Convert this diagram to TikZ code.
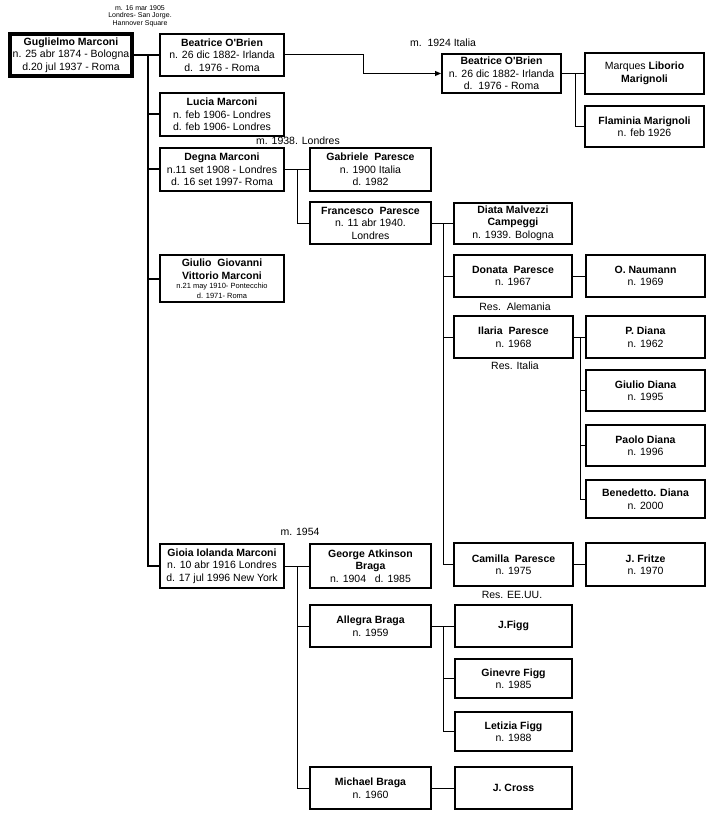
\documentclass[tikz,border=0pt]{standalone}
\usepackage{fontspec}
\setmainfont{Liberation Sans}
\usetikzlibrary{arrows.meta}
\begin{document}
\begin{tikzpicture}[x=1pt,y=-1pt,
  pbox/.style={draw, fill=white, line width=2pt, inner sep=0pt, align=center, font=\fontsize{10.5}{12.5}\selectfont},
  wh/.style 2 args={minimum width=#1pt, minimum height=#2pt},
  lbl/.style={inner sep=0pt, align=center, font=\fontsize{10.5}{12.5}\selectfont},
  tiny/.style={inner sep=0pt, align=center, font=\fontsize{7}{7.5}\selectfont},
  link/.style={line width=1pt},
  trunk/.style={line width=2pt},
]
\fill[white] (0,0) rectangle (710,813);
\useasboundingbox (0,0) rectangle (710,813);

% column guide coordinates
\coordinate (tk) at (148,55);
\coordinate (c297) at (297,0);
\coordinate (c363) at (363,0);
\coordinate (c443) at (443,0);
\coordinate (c575) at (575,0);
\coordinate (c580) at (580,0);

% generation 1
\node[pbox, line width=4pt, wh={122}{42}] (gm) at (71,55) {\textbf{Guglielmo Marconi}\\n. 25 abr 1874 - Bologna\\d.20 jul 1937 - Roma};

% generation 2
\node[pbox, wh={124}{42}] (bo1) at (222,55) {\textbf{Beatrice O\textquotesingle Brien}\\n. 26 dic 1882- Irlanda\\d.~~1976 - Roma};
\node[pbox, wh={124}{43}] (lm) at (222,114.5) {\textbf{Lucia Marconi}\\n. feb 1906- Londres\\d. feb 1906- Londres};
\node[pbox, wh={124}{43}] (dm) at (222,169.5) {\textbf{Degna Marconi}\\n.11 set 1908 - Londres\\d. 16 set 1997- Roma};
\node[pbox, wh={124}{47}] (gg) at (222,278.5) {\textbf{Giulio~~Giovanni}\\\textbf{Vittorio Marconi}\\[-3pt]{\fontsize{7.5}{9}\selectfont n.21 may 1910- Pontecchio}\\[-3pt]{\fontsize{7.5}{9}\selectfont d. 1971- Roma}};
\node[pbox, wh={124}{44}] (gi) at (222,566) {\textbf{Gioia Iolanda Marconi}\\n. 10 abr 1916 Londres\\d. 17 jul 1996 New York};

% Beatrice second marriage
\node[pbox, wh={119}{39}] (bo2) at (501.5,73.5) {\textbf{Beatrice O\textquotesingle Brien}\\n. 26 dic 1882- Irlanda\\d.~~1976 - Roma};
\node[pbox, wh={119}{41}] (lib) at (644.5,73.5) {Marques \textbf{Liborio}\\\textbf{Marignoli}};
\node[pbox, wh={119}{41}] (fm) at (644.5,126.5) {\textbf{Flaminia Marignoli}\\n. feb 1926};

% Degna branch
\node[pbox, wh={121}{43}] (gp) at (370.5,169.5) {\textbf{Gabriele~~Paresce}\\n. 1900 Italia\\d. 1982};
\node[pbox, wh={121}{42}] (fp) at (370.5,223) {\textbf{Francesco~~Paresce}\\n. 11 abr 1940.\\Londres};
\node[pbox, wh={118}{41}] (dmc) at (513,223) {\textbf{Diata Malvezzi}\\\textbf{Campeggi}\\n. 1939. Bologna};
\node[pbox, wh={118}{42}] (dp) at (513,276) {\textbf{Donata~~Paresce}\\n. 1967};
\node[pbox, wh={119}{42}] (on) at (645.5,276) {\textbf{O. Naumann}\\n. 1969};
\node[pbox, wh={119}{42}] (ip) at (513.5,337) {\textbf{Ilaria~~Paresce}\\n. 1968};
\node[pbox, wh={119}{42}] (pd) at (645.5,337) {\textbf{P. Diana}\\n. 1962};
\node[pbox, wh={119}{41}] (gd) at (645.5,390.5) {\textbf{Giulio Diana}\\n. 1995};
\node[pbox, wh={119}{41}] (pad) at (645.5,445.5) {\textbf{Paolo Diana}\\n. 1996};
\node[pbox, wh={119}{38}] (bd) at (645.5,499) {\textbf{Benedetto. Diana}\\n. 2000};
\node[pbox, wh={119}{43}] (cp) at (513.5,564.5) {\textbf{Camilla~~Paresce}\\n. 1975};
\node[pbox, wh={119}{43}] (jfr) at (645.5,564.5) {\textbf{J. Fritze}\\n. 1970};

% Gioia branch
\node[pbox, wh={121}{44}] (ga) at (370.5,566) {\textbf{George Atkinson}\\\textbf{Braga}\\n. 1904~~~d. 1985};
\node[pbox, wh={121}{42}] (ab) at (370.5,626) {\textbf{Allegra Braga}\\n. 1959};
\node[pbox, wh={121}{42}] (mb) at (370.5,788) {\textbf{Michael Braga}\\n. 1960};
\node[pbox, wh={117}{42}] (jf) at (513.5,626) {\textbf{J.Figg}};
\node[pbox, wh={117}{39}] (gf) at (513.5,678.5) {\textbf{Ginevre Figg}\\n. 1985};
\node[pbox, wh={117}{39}] (lf) at (513.5,731.5) {\textbf{Letizia Figg}\\n. 1988};
\node[pbox, wh={117}{42}] (jc) at (513.5,788) {\textbf{J. Cross}};

% labels
\node[tiny] (l1905) at (140,16) {m. 16 mar 1905\\Londres- San Jorge.\\Hannover Square};
\node[lbl] (l1924) at (443,43) {m.~~1924 Italia};
\node[lbl] (l1938) at (298,141) {m. 1938. Londres};
\node[lbl] (lres1) at (515,307) {Res.~~Alemania};
\node[lbl] (lres2) at (515,366) {Res. Italia};
\node[lbl] (lres3) at (512,595) {Res. EE.UU.};
\node[lbl] (l1954) at (300,532) {m. 1954};

% trunk from Guglielmo
\draw[trunk] (gm.east) -- (tk) |- (gi.west);
\draw[trunk] (tk) -- (bo1.west);
\draw[trunk] (tk |- lm.west) -- (lm.west);
\draw[trunk] (tk |- dm.west) -- (dm.west);
\draw[trunk] (tk |- gg.west) -- (gg.west);

% Beatrice -> second marriage
\draw[link, -{Triangle[length=6pt,width=5pt]}] (bo1.east) -- (c363 |- bo1.east) -- (c363 |- bo2.west) -- (bo2.west);
\draw[link] (bo2.east) -- (lib.west);
\draw[link] (c575 |- bo2.east) |- (fm.west);

% Degna
\draw[link] (dm.east) -- (gp.west);
\draw[link] (c297 |- dm.east) |- (fp.west);

% Francesco
\draw[link] (fp.east) -- (dmc.west);
\draw[link] (c443 |- fp.east) |- (cp.west);
\draw[link] (c443 |- dp.west) -- (dp.west);
\draw[link] (c443 |- ip.west) -- (ip.west);
\draw[link] (dp.east) -- (on.west);
\draw[link] (ip.east) -- (pd.west);
\draw[link] (c580 |- ip.east) |- (bd.west);
\draw[link] (c580 |- gd.west) -- (gd.west);
\draw[link] (c580 |- pad.west) -- (pad.west);
\draw[link] (cp.east) -- (jfr.west);

% Gioia
\draw[link] (gi.east) -- (ga.west);
\draw[link] (c297 |- gi.east) |- (mb.west);
\draw[link] (c297 |- ab.west) -- (ab.west);
\draw[link] (ab.east) -- (jf.west);
\draw[link] (c443 |- ab.east) |- (lf.west);
\draw[link] (c443 |- gf.west) -- (gf.west);
\draw[link] (mb.east) -- (jc.west);
\end{tikzpicture}
\end{document}
